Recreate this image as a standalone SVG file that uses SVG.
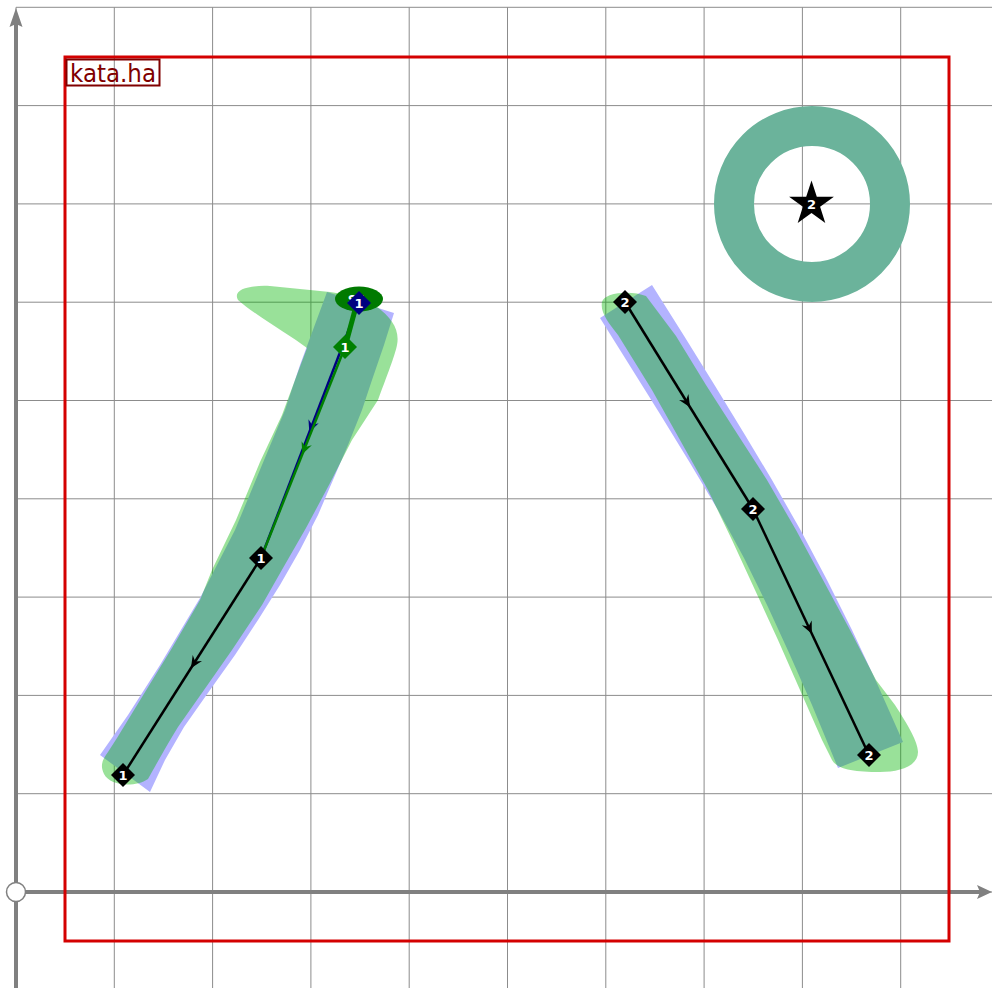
<svg xmlns="http://www.w3.org/2000/svg" width="992" height="988" viewBox="0 0 992 988">
<style>
.grid{stroke:#8c8c8c;stroke-width:1;fill:none}
.axis{stroke:#808080;stroke-width:4;fill:none}
.blue{fill:#b3b3ff}
.green{fill:rgb(0,180,0);fill-opacity:0.4}
.n{font-family:"DejaVu Sans",sans-serif;font-weight:bold;font-size:13px;fill:#fff;text-anchor:middle}
.pk{stroke:#000;stroke-width:2.5;fill:none}
.pn{stroke:#000080;stroke-width:2.5;fill:none}
.pg{stroke:#008000;stroke-width:2.5;fill:none}
</style>
<defs>
<marker id="ak" markerUnits="userSpaceOnUse" markerWidth="14" markerHeight="12" viewBox="-12 -6 14 12" refX="0" refY="0" orient="auto" overflow="visible"><path d="M2,0 L-10,-5.5 L-6,0 L-10,5.5 Z" fill="#000"/></marker>
<marker id="an" markerUnits="userSpaceOnUse" markerWidth="14" markerHeight="12" viewBox="-12 -6 14 12" refX="0" refY="0" orient="auto" overflow="visible"><path d="M2,0 L-10,-5.5 L-6,0 L-10,5.5 Z" fill="#000080"/></marker>
<marker id="ag" markerUnits="userSpaceOnUse" markerWidth="14" markerHeight="12" viewBox="-12 -6 14 12" refX="0" refY="0" orient="auto" overflow="visible"><path d="M2,0 L-10,-5.5 L-6,0 L-10,5.5 Z" fill="#008000"/></marker>
<path id="dia" d="M0,-12 L12,0 L0,12 L-12,0 Z"/>
</defs>
<rect x="0" y="0" width="992" height="988" fill="#fff"/>
<g id="grid" class="grid">
<path d="M16,7.3 V988 M114.3,7.3 V988 M212.6,7.3 V988 M310.9,7.3 V988 M409.2,7.3 V988 M507.5,7.3 V988 M605.8,7.3 V988 M704.1,7.3 V988 M802.4,7.3 V988 M900.7,7.3 V988"/>
<path d="M16,7.3 H992 M16,105.6 H992 M16,203.9 H992 M16,302.2 H992 M16,400.5 H992 M16,498.8 H992 M16,597.1 H992 M16,695.4 H992 M16,793.7 H992 M16,892 H992"/>
</g>
<g id="axes">
<line class="axis" x1="16" y1="988" x2="16" y2="22"/>
<polygon points="16,8 22.5,27 16,24 9.5,27" fill="#808080"/>
<line class="axis" x1="16" y1="892" x2="980" y2="892"/>
<polygon points="992,892 977,885 980,892 977,899" fill="#808080"/>
</g>
<rect id="frame" x="65" y="57" width="884" height="884" fill="none" stroke="#d40000" stroke-width="3"/>
<g id="label">
<rect x="66.5" y="59.5" width="93" height="26" fill="none" stroke="#800000" stroke-width="2"/>
<text x="70" y="82" font-family="DejaVu Sans, sans-serif" font-size="24" textLength="86" lengthAdjust="spacingAndGlyphs" fill="#800000">kata.ha</text>
</g>
<g id="ring">
<circle cx="812" cy="204" r="78" fill="none" stroke="#6bb39b" stroke-width="40"/>
</g>
<g id="stroke1-shapes">
<path class="blue" d="M327,292 L394,313 L384,345 L372,380 L362,410 L348,445 L333,480 L318,515 L300,550 L280,585 L258,620 L235,655 L210,690 L184,727 L165,760 L150,792 L100,755 L128,715 L160,665 L200,598 L235,530 L262,465 L285,410 L300,365 Z"/>
<path class="green" d="M238,300 C232,289 250,285 270,286 L330,292 C352,295 368,299 376,306 C392,318 400,330 397,345 C395,355 390,368 378,400 L352,440 L329,485 L306,528 L283,568 L262,605 L232,650 L204,690 L178,727 C165,748 156,765 148,779 C135,788 110,786 104,774 C100,766 102,760 108,752 L117,738 L142,697 L172,648 L200,600 L212,570 L236,520 L260,462 L282,415 L295,380 L307,348 C290,335 255,315 238,300 Z"/>
</g>
<g id="stroke2-shapes">
<path class="blue" d="M600,318 L652,285 L683.5,335 L714.5,385 L745,435 L772,480 L800.5,530 L827,580 L852,630 L875.5,680 L903,742 L838,768 L812,705 L790,655 L768,607 L744,558 L718,510 L690,463 L660,414 L630,366 Z"/>
<path class="green" d="M602,302 C604,292 632,290 646,296 L676,336 L706,385 L738,435 L767,480 L796,530 L823,580 L850,630 L876,680 L895,705 C908,725 918,742 918,752 C918,766 900,772 880,772 C855,772 838,770 832,760 L822,740 L800,690 L778,640 L755,590 L732,540 L708,490 L680,440 L652,390 L618,335 C608,322 600,312 602,302 Z"/>
</g>
<g id="connectors">
<path class="pn" d="M359,303 L310,430.5 L261,558" marker-mid="url(#an)"/>
<path class="pg" d="M345,347 L303,452.5 L261,558" marker-mid="url(#ag)"/>
<path d="M355,310 L345,347" stroke="#008000" stroke-width="5" fill="none"/>
<path class="pk" d="M261,558 L192,666.5 L123,775" marker-mid="url(#ak)"/>
<path class="pk" d="M625,302 L689,405.5 L753,509" marker-mid="url(#ak)"/>
<path class="pk" d="M753,509 L811,632 L869,755" marker-mid="url(#ak)"/>
</g>
<g id="start1">
<ellipse cx="359" cy="299" rx="24" ry="12.5" fill="#007a00"/>
<text class="n" x="357" y="303.5">S1</text>
</g>
<g id="n1a"><use href="#dia" x="359" y="303" fill="#000080"/><text class="n" x="359" y="308">1</text></g>
<g id="n1b"><use href="#dia" x="345" y="347" fill="#008000"/><text class="n" x="345" y="352">1</text></g>
<g id="n1c"><use href="#dia" x="261" y="558" fill="#000"/><text class="n" x="261" y="563">1</text></g>
<g id="n1d"><use href="#dia" x="123" y="775" fill="#000"/><text class="n" x="123" y="780">1</text></g>
<g id="n2a"><use href="#dia" x="625" y="302" fill="#000"/><text class="n" x="625" y="307">2</text></g>
<g id="n2b"><use href="#dia" x="753" y="509" fill="#000"/><text class="n" x="753" y="514">2</text></g>
<g id="n2c"><use href="#dia" x="869" y="755" fill="#000"/><text class="n" x="869" y="760">2</text></g>
<g id="star">
<polygon points="811.5,180.5 816.8,196.7 833.9,196.7 820.1,206.8 825.3,223 811.5,213 797.7,223 802.9,206.8 789.1,196.7 806.2,196.7" fill="#000"/>
<text class="n" x="811.5" y="209">2</text>
</g>
<g id="origin">
<circle cx="16" cy="892" r="9.5" fill="#fff" stroke="#808080" stroke-width="1.5"/>
</g>
</svg>
